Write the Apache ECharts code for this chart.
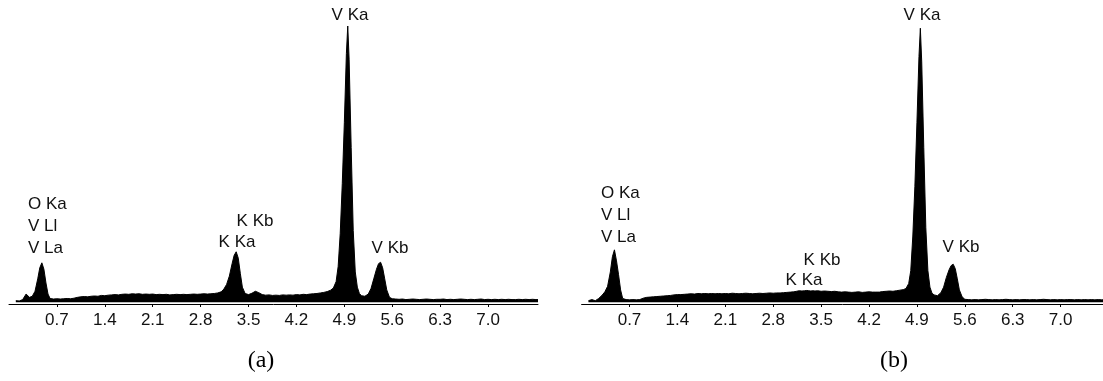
<!DOCTYPE html>
<html>
<head>
<meta charset="utf-8">
<script src="https://cdn.jsdelivr.net/npm/echarts@6/dist/echarts.min.js"></script>
<style>
  html, body { margin: 0; padding: 0; background: #fff; }
  #chart { width: 1103px; height: 381px; }
</style>
</head>
<body>
<div id="chart"></div>
<script>
// energy channels (keV), shared by both spectra
const energy = [
  0.10, 0.15, 0.20, 0.25, 0.30, 0.34, 0.38, 0.42, 0.45, 0.48, 0.51, 0.54, 0.57, 0.60,
  0.65, 0.70, 0.75, 0.80, 0.85, 0.90, 0.95, 1.00, 1.05, 1.10, 1.15, 1.20, 1.25, 1.30,
  1.35, 1.40, 1.45, 1.50, 1.55, 1.60, 1.65, 1.70, 1.75, 1.80, 1.85, 1.90, 1.95, 2.00,
  2.05, 2.10, 2.15, 2.20, 2.25, 2.30, 2.35, 2.40, 2.45, 2.50, 2.55, 2.60, 2.65, 2.70,
  2.75, 2.80, 2.85, 2.90, 2.95, 3.00, 3.05, 3.10,
  3.14, 3.18, 3.22, 3.26, 3.29, 3.32, 3.35, 3.38, 3.41, 3.45,
  3.50, 3.55, 3.60, 3.65, 3.70, 3.75, 3.80, 3.85, 3.90, 3.95, 4.00, 4.05, 4.10, 4.15,
  4.20, 4.25, 4.30, 4.35, 4.40, 4.45, 4.50, 4.55, 4.60, 4.65, 4.70,
  4.74, 4.78, 4.81, 4.84, 4.87, 4.90, 4.93, 4.95, 4.97, 5.00, 5.03, 5.06, 5.09, 5.12,
  5.15, 5.20, 5.25, 5.29, 5.33, 5.37, 5.40, 5.43, 5.46, 5.49, 5.52, 5.56, 5.60,
  5.65, 5.70, 5.75, 5.80, 5.85, 5.90, 5.95, 6.00, 6.05, 6.10, 6.15, 6.20, 6.25, 6.30,
  6.35, 6.40, 6.45, 6.50, 6.55, 6.60, 6.65, 6.70, 6.75, 6.80, 6.85, 6.90, 6.95, 7.00,
  7.05, 7.10, 7.15, 7.20, 7.25, 7.30, 7.35, 7.40, 7.45, 7.50, 7.55, 7.60, 7.65, 7.70, 7.73
]

// counts, spectrum (a)
const countsA = [
  6, 5, 10, 30, 18, 22, 40, 85, 125, 143, 120, 70, 30, 14,
  12, 13, 12, 13, 14, 13, 15, 18, 20, 21, 20, 22, 23, 22,
  25, 24, 26, 27, 28, 27, 29, 30, 29, 31, 30, 31, 29, 30,
  29, 30, 28, 29, 28, 29, 27, 28, 29, 28, 29, 28, 29, 30,
  29, 30, 31, 30, 31, 32, 34, 38,
  48, 65, 95, 140, 170, 183, 160, 105, 55, 32,
  28, 33, 40, 35, 28, 26, 27, 25, 26, 25, 27, 26, 27, 26,
  28, 27, 29, 28, 30, 31, 32, 34, 36, 39, 44,
  52, 75, 130, 250, 430, 650, 900, 1000, 880, 560, 260, 110, 55, 32,
  24, 22, 30, 50, 85, 120, 140, 145, 125, 85, 45, 18, 13,
  12, 11, 12, 10, 11, 12, 11, 10, 11, 12, 11, 10, 11, 11,
  12, 10, 11, 10, 11, 12, 11, 10, 11, 10, 11, 12, 10, 11,
  10, 11, 10, 11, 10, 11, 10, 10, 11, 10, 11, 10, 11, 10, 10
]

// counts, spectrum (b)
const countsB = [
  6, 10, 6, 14, 26, 38, 58, 110, 165, 190, 150, 100, 45, 14,
  10, 9, 10, 9, 10, 15, 18, 19, 20, 21, 22, 23, 24, 25,
  27, 28, 28, 29, 30, 31, 30, 32, 31, 32, 31, 32, 31, 32,
  31, 32, 31, 33, 32, 31, 32, 33, 32, 31, 32, 33, 32, 33,
  34, 33, 34, 34, 35, 36, 37, 38,
  40, 42, 41, 42, 43, 42, 41, 42, 41, 42,
  40, 41, 40, 39, 40, 38, 37, 38, 37, 36, 37, 38, 36, 37,
  38, 37, 37, 37, 39, 40, 41, 40, 42, 44, 46,
  50, 68, 115, 240, 420, 650, 890, 992, 870, 560, 270, 115, 55, 33,
  27, 24, 35, 55, 90, 118, 133, 138, 122, 85, 45, 20, 11,
  10, 9, 10, 9, 10, 11, 10, 9, 10, 9, 10, 11, 10, 9,
  10, 9, 10, 10, 9, 10, 9, 10, 11, 10, 9, 10, 9, 10,
  9, 10, 10, 9, 10, 9, 10, 9, 10, 9, 10, 9, 10, 9, 10
]

// x axis tick labels
const tickValues = [0.7, 1.4, 2.1, 2.8, 3.5, 4.2, 4.9, 5.6, 6.3, 7.0]

const FONT = '"Liberation Sans", Arial, sans-serif'
const chart = echarts.init(document.getElementById('chart'), null, { renderer: 'canvas' })

const makeX = (gi) => ({
  type: 'value',
  gridIndex: gi,
  min: 0,
  max: 7.73,
  axisLine: { onZero: false, lineStyle: { color: '#000', width: 1 } },
  axisTick: { customValues: tickValues, length: 3, lineStyle: { color: '#000' } },
  axisLabel: {
    customValues: tickValues,
    formatter: (v) => v.toFixed(1),
    margin: 8,
    color: '#111',
    fontSize: 17,
    fontFamily: FONT
  },
  splitLine: { show: false }
})

const makeY = (gi) => ({ type: 'value', gridIndex: gi, min: -6, max: 1000, show: false })

const makeSeries = (gi, counts) => ({
  type: 'line',
  xAxisIndex: gi,
  yAxisIndex: gi,
  data: energy.map((e, i) => [e, counts[i]]),
  showSymbol: false,
  symbol: 'none',
  lineStyle: { color: '#000', width: 1 },
  areaStyle: { color: '#000', opacity: 1 },
  silent: true
})

const txt = (text, x, y, align) => ({
  type: 'text',
  x: x,
  y: y,
  style: {
    text: text,
    font: '17px ' + FONT,
    fill: '#111',
    align: align || 'center',
    textAlign: align || 'center',
    verticalAlign: 'middle',
    textVerticalAlign: 'middle'
  }
})

const multi = (text, x, y) => ({
  type: 'text',
  x: x,
  y: y,
  style: {
    text: text,
    font: '17px ' + FONT,
    lineHeight: 22,
    fill: '#111',
    align: 'left',
    textAlign: 'left',
    verticalAlign: 'top',
    textVerticalAlign: 'top'
  }
})

const caption = (text, x, y) => ({
  type: 'text',
  x: x,
  y: y,
  style: {
    text: text,
    font: '24px "Liberation Serif", "Times New Roman", serif',
    fill: '#000',
    align: 'center',
    textAlign: 'center',
    verticalAlign: 'middle',
    textVerticalAlign: 'middle'
  }
})

chart.setOption({
  animation: false,
  backgroundColor: '#fff',
  grid: [
    { left: 9, top: 26, width: 529, height: 278, containLabel: false, outerBoundsMode: 'none' },
    { left: 581.6, top: 26, width: 529, height: 278, containLabel: false, outerBoundsMode: 'none' }
  ],
  xAxis: [makeX(0), makeX(1)],
  yAxis: [makeY(0), makeY(1)],
  series: [makeSeries(0, countsA), makeSeries(1, countsB)],
  graphic: [
    // panel (a) peak labels
    multi('O Ka\nV Ll\nV La', 28, 193),
    txt('K Kb', 255, 221),
    txt('K Ka', 237, 242),
    txt('V Ka', 350, 15),
    txt('V Kb', 390, 248),
    // panel (b) peak labels
    multi('O Ka\nV Ll\nV La', 601, 182),
    txt('K Kb', 822, 260),
    txt('K Ka', 804, 280),
    txt('V Ka', 922, 15),
    txt('V Kb', 961, 247),
    caption('(a)', 261, 361),
    caption('(b)', 894, 361)
  ]
})
</script>
</body>
</html>
